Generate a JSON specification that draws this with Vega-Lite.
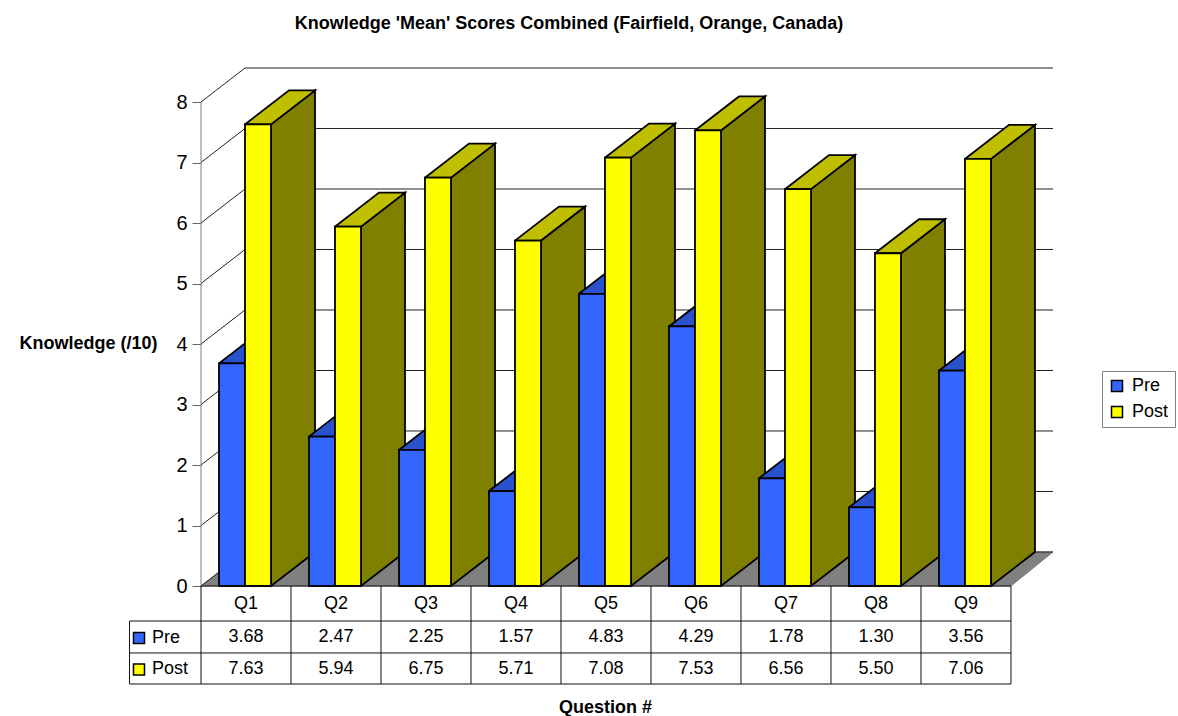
{
"$schema":"https://vega.github.io/schema/vega-lite/v6.json",
"width":852,"height":518,
"autosize":{"type":"none"},
"padding":{"left":201,"top":68,"right":125,"bottom":130},
"background":"white",
"config":{"font":"Liberation Sans","view":{"stroke":null}},
"title":{"text":"Knowledge 'Mean' Scores Combined (Fairfield, Orange, Canada)","anchor":"middle","frame":"group","dx":-58,"offset":35,"fontSize":18,"fontWeight":"bold","color":"black"},
"datasets":{
"scores":[
{"question":"Q1","series":"Pre","value":3.68},{"question":"Q1","series":"Post","value":7.63},
{"question":"Q2","series":"Pre","value":2.47},{"question":"Q2","series":"Post","value":5.94},
{"question":"Q3","series":"Pre","value":2.25},{"question":"Q3","series":"Post","value":6.75},
{"question":"Q4","series":"Pre","value":1.57},{"question":"Q4","series":"Post","value":5.71},
{"question":"Q5","series":"Pre","value":4.83},{"question":"Q5","series":"Post","value":7.08},
{"question":"Q6","series":"Pre","value":4.29},{"question":"Q6","series":"Post","value":7.53},
{"question":"Q7","series":"Pre","value":1.78},{"question":"Q7","series":"Post","value":6.56},
{"question":"Q8","series":"Pre","value":1.30},{"question":"Q8","series":"Post","value":5.50},
{"question":"Q9","series":"Pre","value":3.56},{"question":"Q9","series":"Post","value":7.06}
],
"ticks":[{"t":0},{"t":1},{"t":2},{"t":3},{"t":4},{"t":5},{"t":6},{"t":7},{"t":8}],
"floor":[{"px":0,"py":0,"i":0},{"px":9,"py":0,"i":1},{"px":9.467,"py":0.562,"i":2},{"px":0.489,"py":0.562,"i":3},{"px":0,"py":0,"i":4}],
"columns":[{"c":0},{"c":1},{"c":2},{"c":3},{"c":4},{"c":5},{"c":6},{"c":7},{"c":8},{"c":9}],
"rows":[{"r":-0.579},{"r":-1.107},{"r":-1.62}]
},
"encoding":{
"x":{"field":"px","type":"quantitative","scale":{"domain":[0,9.467],"nice":false,"zero":false},"axis":{"title":"Question #","titleFontSize":18,"titleFontWeight":"bold","titleColor":"black","labels":false,"ticks":false,"domain":false,"grid":false,"titleX":404,"titleY":126,"titleBaseline":"alphabetic","titleAlign":"center"}},
"y":{"field":"py","type":"quantitative","scale":{"domain":[0,8.562],"nice":false,"zero":false},"axis":{"values":[0,1,2,3,4,5,6,7,8],"format":"d","title":"Knowledge (/10)","titleFontSize":18,"titleFontWeight":"bold","titleColor":"black","titleAngle":0,"titleX":-113,"titleY":275,"titleAlign":"center","titleBaseline":"middle","labelFontSize":20,"labelColor":"black","labelPadding":5,"tickSize":9,"tickColor":"#666666","domain":false,"grid":false}}
},
"layer":[
{"data":{"name":"floor"},"mark":{"type":"line","fill":"#808080","stroke":"#808080","strokeWidth":1},"encoding":{"order":{"field":"i","type":"quantitative"}}},
{"data":{"name":"ticks"},"transform":[{"calculate":"0.489","as":"px"},{"calculate":"9.467","as":"px2"},{"calculate":"datum.t+0.562","as":"py"}],
 "mark":{"type":"rule","color":"#222222","strokeWidth":1},"encoding":{"x2":{"field":"px2"}}},
{"data":{"name":"ticks"},"transform":[{"calculate":"0","as":"px"},{"calculate":"0.489","as":"px2"},{"calculate":"datum.t","as":"py"},{"calculate":"datum.t+0.562","as":"py2"}],
 "mark":{"type":"rule","color":"#222222","strokeWidth":1},"encoding":{"x2":{"field":"px2"},"y2":{"field":"py2"}}},
{"data":{"values":[{"px":0,"py":0,"py2":8}]},"mark":{"type":"rule","color":"#808080","strokeWidth":1},"encoding":{"y2":{"field":"py2"}}},
{"data":{"name":"scores"},"transform":[
 {"calculate":"toNumber(slice(datum.question,1))-1","as":"k"},
 {"calculate":"datum.series=='Post'?1:0","as":"s"},
 {"calculate":"datum.k+0.2+datum.s*0.2889","as":"xl"},
 {"calculate":"datum.xl+0.2889","as":"xr"},
 {"calculate":"datum.xl+0.489","as":"xlb"},
 {"calculate":"datum.xr+0.489","as":"xrb"},
 {"calculate":"datum.value+0.562","as":"vb"},
 {"calculate":"[{f:'side',i:0,x:datum.xr,y:0},{f:'side',i:1,x:datum.xrb,y:0.562},{f:'side',i:2,x:datum.xrb,y:datum.vb},{f:'side',i:3,x:datum.xr,y:datum.value},{f:'side',i:4,x:datum.xr,y:0},{f:'top',i:0,x:datum.xl,y:datum.value},{f:'top',i:1,x:datum.xr,y:datum.value},{f:'top',i:2,x:datum.xrb,y:datum.vb},{f:'top',i:3,x:datum.xlb,y:datum.vb},{f:'top',i:4,x:datum.xl,y:datum.value},{f:'front',i:0,x:datum.xl,y:0},{f:'front',i:1,x:datum.xr,y:0},{f:'front',i:2,x:datum.xr,y:datum.value},{f:'front',i:3,x:datum.xl,y:datum.value},{f:'front',i:4,x:datum.xl,y:0}]","as":"verts"},
 {"flatten":["verts"]},
 {"calculate":"datum.verts.x","as":"px"},
 {"calculate":"datum.verts.y","as":"py"},
 {"calculate":"datum.verts.i","as":"vi"},
 {"calculate":"datum.series+' '+datum.verts.f","as":"face"},
 {"calculate":"datum.question+' '+datum.series+' '+datum.verts.f","as":"shape"}
 ],
 "mark":{"type":"line","stroke":"black","strokeWidth":1.8,"strokeJoin":"miter","strokeCap":"square"},
 "encoding":{
  "fill":{"field":"face","type":"nominal","legend":null,"scale":{"domain":["Pre front","Pre top","Pre side","Post front","Post top","Post side"],"range":["#3366FF","#2952CC","#1A3380","#FFFF00","#BFBF00","#808000"]}},
  "detail":{"field":"shape"},
  "order":{"field":"vi","type":"quantitative"}
 }},
{"data":{"name":"columns"},"transform":[{"calculate":"datum.c","as":"px"},{"calculate":"0","as":"py"},{"calculate":"-1.62","as":"py2"}],
 "mark":{"type":"rule","color":"#111111","strokeWidth":1},"encoding":{"y2":{"field":"py2"}}},
{"data":{"name":"rows"},"transform":[{"calculate":"-0.794","as":"px"},{"calculate":"9","as":"px2"},{"calculate":"datum.r","as":"py"}],
 "mark":{"type":"rule","color":"#111111","strokeWidth":1},"encoding":{"x2":{"field":"px2"}}},
{"data":{"values":[{"px":-0.794,"py":-0.579,"py2":-1.62}]},"mark":{"type":"rule","color":"#111111","strokeWidth":1},"encoding":{"y2":{"field":"py2"}}},
{"data":{"values":[{"px":0,"py":0,"px2":9}]},"mark":{"type":"rule","color":"#111111","strokeWidth":1},"encoding":{"x2":{"field":"px2"}}},
{"data":{"name":"scores"},"transform":[{"filter":"datum.series=='Pre'"},{"calculate":"toNumber(slice(datum.question,1))-0.5","as":"px"},{"calculate":"-0.298","as":"py"}],
 "mark":{"type":"text","fontSize":18,"color":"black","baseline":"middle"},"encoding":{"text":{"field":"question"}}},
{"data":{"name":"scores"},"transform":[{"calculate":"toNumber(slice(datum.question,1))-0.5","as":"px"},{"calculate":"datum.series=='Pre'?-0.843:-1.372","as":"py"}],
 "mark":{"type":"text","fontSize":18,"color":"black","baseline":"middle"},"encoding":{"text":{"field":"value","type":"quantitative","format":".2f"}}},
{"data":{"name":"scores"},"transform":[{"filter":"datum.question=='Q1'"},{"calculate":"-0.544","as":"px"},{"calculate":"datum.series=='Pre'?-0.86:-1.38","as":"py"}],
 "mark":{"type":"text","fontSize":18,"color":"black","baseline":"middle","align":"left"},"encoding":{"text":{"field":"series"}}},
{"data":{"name":"scores"},"transform":[{"filter":"datum.question=='Q1'"},{"calculate":"-0.689","as":"px"},{"calculate":"datum.series=='Pre'?-0.86:-1.38","as":"py"}],
 "mark":{"type":"point","shape":"square","filled":true,"size":121,"stroke":"black","strokeWidth":1.5,"opacity":1},
 "encoding":{"color":{"field":"series","type":"nominal","scale":{"domain":["Pre","Post"],"range":["#3366FF","#FFFF00"]},
  "legend":{"title":null,"orient":"none","legendX":901,"legendY":303,"symbolType":"square","symbolSize":121,"symbolStrokeColor":"black","symbolStrokeWidth":1.5,"symbolOpacity":1,"labelFontSize":18,"labelColor":"black","labelLimit":60,"fillColor":"white","strokeColor":"#808080","padding":6,"rowPadding":8,"columnPadding":4,"labelOffset":6}}}},
{"data":{"values":[{"box":"shadow"}]},"mark":{"type":"rect","color":"black"},"encoding":{"x":{"datum":10.06},"x2":{"datum":10.81},"y":{"datum":3.49},"y2":{"datum":2.54}}}
]
}
